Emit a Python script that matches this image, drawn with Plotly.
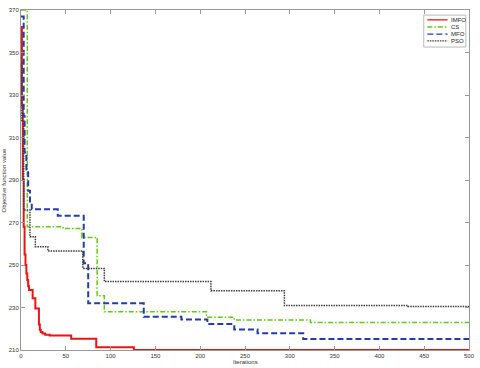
import plotly.graph_objects as go

# step curves: iteration where each new value starts
imfo_iter = [0, 1, 2, 3, 4, 5, 6, 7, 8, 9, 13, 16, 20, 21, 22, 24, 27, 32, 56, 84, 126, 500]
imfo_val = [362, 325, 290, 268, 255, 250, 246, 243, 240, 238.2, 234.3, 229.5, 222, 219.5, 218.5, 217.8, 217.2, 216.8, 215.3, 211.3, 210, 210]

cs_iter = [0, 7, 47, 68, 85, 93, 207, 238, 323, 500]
cs_val = [370, 268, 267.2, 263, 235.5, 228, 225.4, 224.1, 223, 223]

mfo_iter = [0, 3, 4, 6, 8, 10, 12, 41, 70, 75, 137, 179, 208, 238, 264, 315, 500]
mfo_val = [367, 320, 303, 295, 285, 279, 276.2, 273.2, 250.8, 232, 225.7, 224.4, 222.2, 219.7, 217.9, 215.2, 215.2]

pso_iter = [0, 1, 3, 10, 16, 30, 69, 93, 212, 294, 432, 500]
pso_val = [345, 318, 275.9, 263.3, 258.6, 256.6, 248.4, 242.2, 237.9, 230.9, 230.5, 230.5]

names = ["IMFO", "CS", "MFO", "PSO"]
x_ticks = [0, 50, 100, 150, 200, 250, 300, 350, 400, 450, 500]
y_ticks = [210, 230, 250, 270, 290, 310, 330, 350, 370]

styles = [
    dict(color="rgb(235,20,20)", width=2),
    dict(color="rgb(100,200,20)", width=1.5, dash="5px,2px,1.5px,2px"),
    dict(color="rgb(35,60,170)", width=2, dash="6px,3px"),
    dict(color="rgb(60,60,60)", width=1.5, dash="1.5px,1px"),
]

fig = go.Figure()
for xs, ys, nm, st in zip([imfo_iter, cs_iter, mfo_iter, pso_iter],
                          [imfo_val, cs_val, mfo_val, pso_val], names, styles):
    fig.add_trace(go.Scatter(x=xs, y=ys, mode="lines", line_shape="hv", line=st, name=nm))

axis_style = dict(showgrid=False, zeroline=False, showline=True, linecolor="#999",
                  linewidth=1, mirror="ticks", ticks="inside", ticklen=4,
                  tickcolor="#999", tickfont=dict(size=6, color="#333"),
                  ticklabeloverflow="allow")

# compact matlab-like legend drawn by hand (plotly's own has a tall minimum row height)
shapes = [dict(type="rect", xref="paper", yref="paper", x0=0.899, x1=0.993, y0=0.891, y1=0.985,
               line=dict(color="#bbb", width=1), fillcolor="white", layer="above")]
annotations = []
row_y = [0.971, 0.950, 0.929, 0.909]
for nm, st, yy in zip(names, styles, row_y):
    leg_line = dict(st, width=1.3)
    shapes.append(dict(type="line", xref="paper", yref="paper", x0=0.907, x1=0.952, y0=yy, y1=yy,
                       line=leg_line, layer="above"))
    annotations.append(dict(text=nm, x=0.956, y=yy, xref="paper", yref="paper", xanchor="left",
                            yanchor="middle", showarrow=False, font=dict(size=6, color="#222")))

annotations += [
    dict(text="Iterations", x=0.5, y=-0.036, xref="paper", yref="paper",
         showarrow=False, font=dict(size=6, color="#333"), yanchor="middle"),
    dict(text="Objective function value", x=-0.037, y=0.5, xref="paper", yref="paper",
         showarrow=False, textangle=-90, font=dict(size=6, color="#333"), xanchor="center"),
]

fig.update_layout(
    width=480, height=368,
    margin=dict(l=21, r=5, t=10, b=18),
    paper_bgcolor="white", plot_bgcolor="white",
    font=dict(family="Liberation Sans, Arial, sans-serif"),
    xaxis=dict(range=[0, 500], tickvals=x_ticks, **axis_style),
    yaxis=dict(range=[210, 370], tickvals=y_ticks, **axis_style),
    showlegend=False,
    shapes=shapes,
    annotations=annotations,
)

fig.write_html("out.html", config={"displayModeBar": False},
               post_script="document.body.style.margin='0';")
